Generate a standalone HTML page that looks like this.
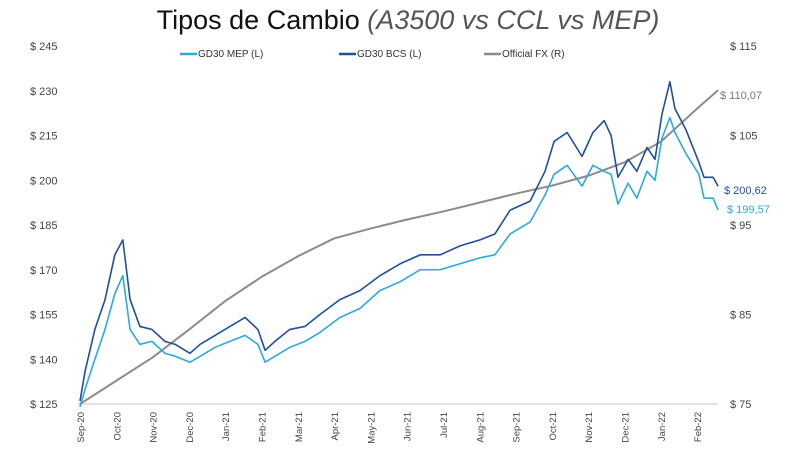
<!DOCTYPE html>
<html><head><meta charset="utf-8"><style>
body{margin:0;background:#fff;width:800px;height:467px;overflow:hidden;font-family:"Liberation Sans",sans-serif}
</style></head><body>
<svg id="c" width="800" height="467">
<text x="408" y="29" text-anchor="middle" font-size="27" fill="#111">Tipos de Cambio <tspan font-style="italic" fill="#555" font-weight="300">(A3500 vs CCL vs MEP)</tspan></text>
<g id="legend" font-size="10" fill="#333">
<g><line x1="180" y1="54" x2="197" y2="54" stroke="#2aa9e2" stroke-width="2.5"/><text x="198" y="57">GD30 MEP (L)</text></g>
<g><line x1="339" y1="54" x2="356" y2="54" stroke="#1f4f9e" stroke-width="2.5"/><text x="357" y="57">GD30 BCS (L)</text></g>
<g><line x1="484" y1="54" x2="501" y2="54" stroke="#8c8c8c" stroke-width="2.5"/><text x="502" y="57">Official FX (R)</text></g>
</g>
<g id="axes"></g><g id="series"></g>
</svg>
<script>
const leftTicks=[125,140,155,170,185,200,215,230,245];
const rightTicks=[75,85,95,105,115];
const monthLabels=["Sep-20","Oct-20","Nov-20","Dec-20","Jan-21","Feb-21","Mar-21","Apr-21","May-21","Jun-21","Jul-21","Aug-21","Sep-21","Oct-21","Nov-21","Dec-21","Jan-22","Feb-22"];
const bcsMonths=[0,0.14,0.41,0.69,0.96,1.18,1.38,1.65,1.98,2.34,2.62,3.03,3.31,3.72,4.13,4.55,4.9,5.1,5.37,5.78,6.2,6.61,7.16,7.71,8.26,8.82,9.37,9.92,10.47,11.02,11.43,11.85,12.4,12.81,13.06,13.42,13.83,14.13,14.44,14.63,14.82,15.1,15.34,15.62,15.84,16.03,16.25,16.39,16.69,17.05,17.19,17.44,17.58];
const bcsValues=[126,136,150,160,175,180,160,151,150,146,145,142,145,148,151,154,150,143,146,150,151,155,160,163,168,172,175,175,178,180,182,190,193,203,213,216,208,216,220,215,201,207,203,211,207,222,233,224,217,206,201,201,198];
const mepValues=[124,130,140,150,162,168,150,145,146,142,141,139,141,144,146,148,145,139,141,144,146,149,154,157,163,166,170,170,172,174,175,182,186,195,202,205,198,205,203,202,192,199,194,203,200,214,221,216,209,202,194,194,190];
const fxMonths=[0,1,2,3,4,5,6,7,8,9,10,11,12,13,14,15,16,17,17.58];
const fxValues=[75,77.6,80.2,83.3,86.5,89.2,91.5,93.5,94.6,95.6,96.5,97.5,98.5,99.4,100.5,102,104.3,108,110.07];
const svg=document.getElementById('c'),NS='http://www.w3.org/2000/svg';
const X=m=>80+m*36.3, YL=v=>404-(v-125)*358/120, YR=v=>404-(v-75)*358/40;
function mk(t,a,p){const e=document.createElementNS(NS,t);for(const k in a)e.setAttribute(k,a[k]);(p||svg).appendChild(e);return e;}
const ax=document.getElementById('axes'),sr=document.getElementById('series');
const base=mk('line',{x1:78,y1:404,x2:718,y2:404,stroke:'#d9d9d9','stroke-width':1.5},ax);


leftTicks.forEach(v=>{const t=mk('text',{x:30,y:YL(v)+4,'font-size':11,fill:'#444'},ax);t.textContent='$ '+v;

});
rightTicks.forEach(v=>{const t=mk('text',{x:730,y:YR(v)+4,'font-size':11,fill:'#444'},ax);t.textContent='$ '+v;

});
monthLabels.forEach((l,i)=>{const x=X(i);const t=mk('text',{x:0,y:0,'font-size':9.5,fill:'#444','text-anchor':'end',transform:`translate(${x+4},412) rotate(-90)`},ax);t.textContent=l;

});
function line(ms,vs,yf,col,w,name){const p=mk('polyline',{points:ms.map((m,i)=>X(m)+','+yf(vs[i])).join(' '),fill:'none',stroke:col,'stroke-width':w,'stroke-linejoin':'round'},sr);

}
line(fxMonths,fxValues,YR,'#8c8c8c',2,'official-fx-line');
line(bcsMonths,mepValues,YL,'#2aa9e2',1.6,'gd30-mep-line');
line(bcsMonths,bcsValues,YL,'#1f4f9e',1.6,'gd30-bcs-line');
function lab(txt,x,y,col,name){const t=mk('text',{x:x,y:y,'font-size':11,fill:col},sr);t.textContent=txt;

}
lab('$ '+fxValues[fxValues.length-1].toFixed(2).replace('.',','),720,99,'#777','official-fx-end-label');
lab('$ 200,62',724,194,'#1f4f9e','bcs-end-label');
lab('$ 199,57',727,213,'#2aa9e2','mep-end-label');
</script>
</body></html>
